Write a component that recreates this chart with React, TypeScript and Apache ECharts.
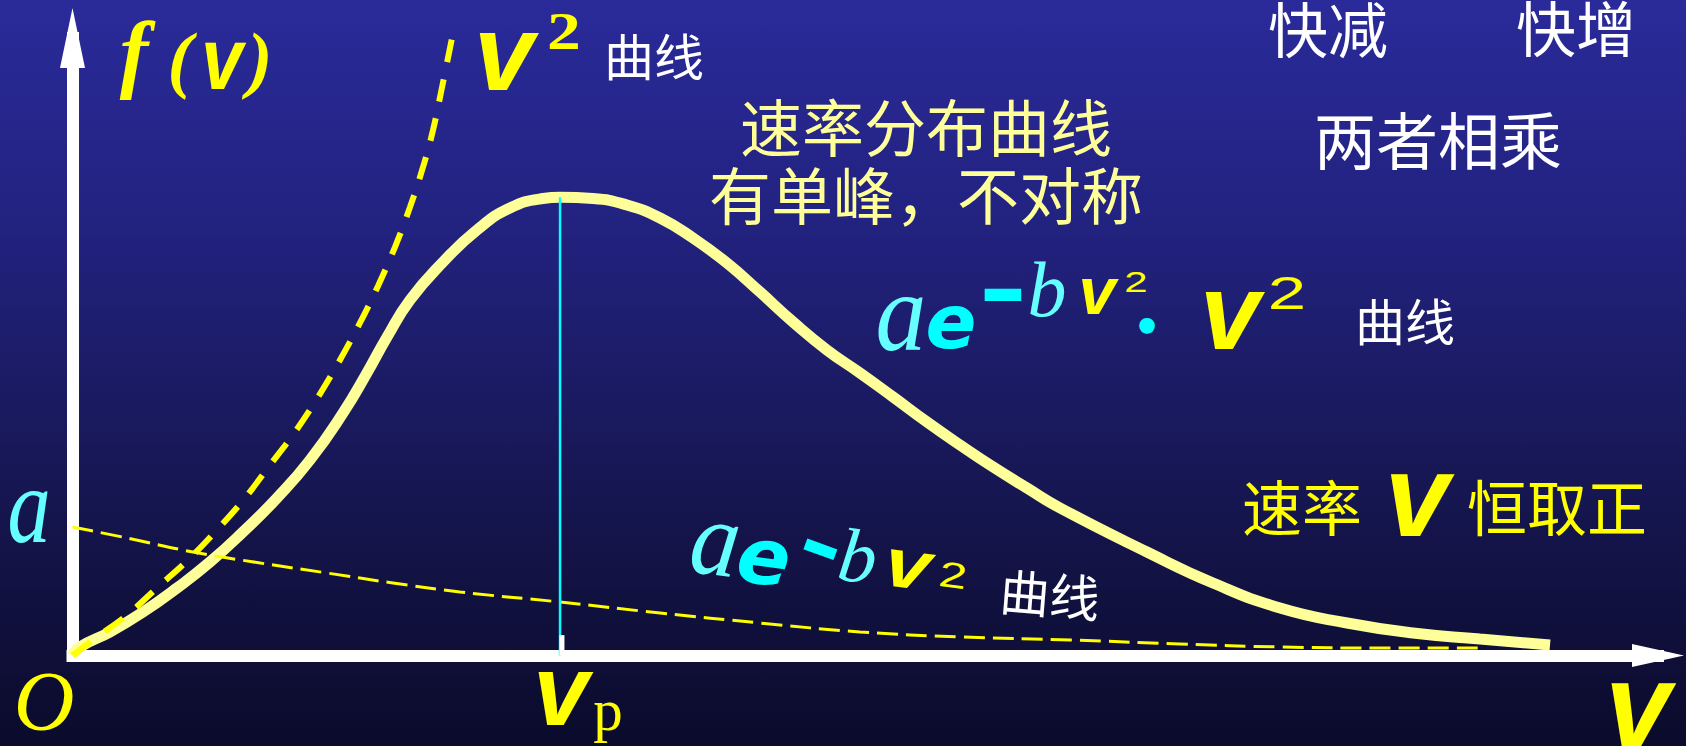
import { useEffect, useRef } from 'react';
import * as echarts from 'echarts';

// Maxwell speed distribution sketch. Speed v and f(v) are both on a 0–100 plotting scale.

// most probable speed and the peak value of f(v)
const vp = 30.75;
const fPeak = 74.2;

// solid curve: a·e^(-bv²)·v²
const distV = [0, 0.47, 2.37, 4.45, 6.59, 8.67, 10.75, 12.9, 14.98, 17.06, 18.57, 19.84, 21.29, 23.37, 25.51, 27.59, 29.67, vp, 32.83, 34.97, 37.06, 39.14, 41.28, 43.36, 45.45, 47.59, 49.67, 51.76, 53.9, 55.98, 58.06, 60.2, 62.29, 67.77, 71.93, 76.16, 80.39, 84.55, 88.77, 93.19];
const distF = [0, 1.38, 3.81, 7.04, 10.93, 15.14, 20.0, 25.51, 31.66, 39.27, 45.75, 51.58, 57.57, 63.72, 68.91, 72.47, 74.0, fPeak, 74.0, 72.96, 70.85, 67.61, 63.56, 58.87, 54.01, 49.47, 45.75, 41.86, 37.81, 34.09, 30.53, 27.13, 23.89, 16.76, 11.74, 7.69, 5.26, 3.64, 2.67, 1.7];

// dashed v² curve
const sqV = [0, 1.55, 3.44, 5.39, 7.29, 9.11, 10.88, 12.46, 14.03, 15.49, 16.87, 18.13, 19.27, 20.34, 21.29, 22.11, 22.74, 23.31, 24.0];
const sqF = [0, 3.0, 6.56, 11.09, 15.47, 20.33, 25.51, 30.85, 36.19, 41.86, 47.85, 53.85, 59.84, 66.15, 72.63, 79.11, 85.1, 92.06, 100.8];

// dashed a·e^(-bv²) curve
const expV = [0, 3.44, 7.6, 11.83, 16.05, 20.21, 24.44, 30.75, 37.06, 43.37, 49.67, 55.98, 62.92, 69.85, 76.16, 82.47, 88.97];
const expF = [20.81, 19.03, 16.76, 14.98, 13.36, 11.74, 10.28, 8.66, 6.88, 5.26, 3.81, 3.0, 2.51, 1.86, 1.38, 1.21, 1.21];

// short white mark at the foot of the v_p line
const vpTick = [0, 3.3];

const YELLOW = '#ffff00';
const PALE = '#ffff99';
const CYAN = '#00ffff';
const LIGHT_CYAN = '#66ffff';
const WHITE = '#ffffff';

const SERIF = '"Liberation Serif", "DejaVu Serif", serif';
const SANS = '"Liberation Sans", Arial, sans-serif';
const DEJAVU = '"DejaVu Sans", sans-serif';
const CJK = '"Noto Sans CJK SC", "Noto Sans", sans-serif';

type Label = {
  text: string;
  x: number;
  y: number;
  size: number;
  color: string;
  family: string;
  italic?: boolean;
  bold?: boolean;
  sx?: number;
  rot?: number;
  lineHeight?: number;
};

function label(l: Label) {
  return {
    type: 'text',
    x: l.x,
    y: l.y,
    scaleX: l.sx ?? 1,
    rotation: l.rot ?? 0,
    silent: true,
    z: 10,
    style: {
      text: l.text,
      fill: l.color,
      fontSize: l.size,
      fontFamily: l.family,
      fontStyle: l.italic ? 'italic' : 'normal',
      fontWeight: l.bold ? 'bold' : 'normal',
      lineHeight: l.lineHeight,
      align: 'center',
      verticalAlign: 'middle',
      textAlign: 'center',
      textVerticalAlign: 'middle',
    },
  };
}

const pairs = (xs: number[], ys: number[]) => xs.map((x, i) => [x, ys[i]]);

const LOWER_TILT = -0.13;

const labels: Label[] = [
  // f(v)
  { text: 'f', x: 134, y: 52, size: 86, color: YELLOW, family: SERIF, italic: true, bold: true },
  { text: '(', x: 180, y: 58, size: 75, color: YELLOW, family: SERIF, italic: true, bold: true },
  { text: 'v', x: 222, y: 58, size: 88, color: YELLOW, family: SANS, italic: true, bold: true, sx: 0.85 },
  { text: ')', x: 260, y: 58, size: 75, color: YELLOW, family: SERIF, italic: true, bold: true },
  // origin, a, v_p, v
  { text: 'O', x: 44, y: 701, size: 84, color: YELLOW, family: SERIF, italic: true },
  { text: 'a', x: 29, y: 506, size: 108, color: LIGHT_CYAN, family: SERIF, italic: true, sx: 0.8 },
  { text: 'v', x: 561, y: 690, size: 100, color: YELLOW, family: SANS, italic: true, bold: true },
  { text: 'p', x: 608, y: 710, size: 59, color: YELLOW, family: SERIF },
  { text: 'v', x: 1638, y: 705, size: 118, color: YELLOW, family: SANS, italic: true, bold: true },
  // v² 曲线
  { text: 'v', x: 504, y: 52, size: 108, color: YELLOW, family: SANS, italic: true, bold: true },
  { text: '2', x: 564, y: 31, size: 52, color: YELLOW, family: SERIF, bold: true, sx: 1.3 },
  { text: '曲线', x: 654, y: 54, size: 50, color: WHITE, family: CJK },
  // notes
  { text: '速率分布曲线\n有单峰，不对称', x: 926, y: 159, size: 62, color: PALE, family: CJK, lineHeight: 68 },
  { text: '快减', x: 1328, y: 26, size: 60, color: WHITE, family: CJK },
  { text: '快增', x: 1576, y: 25, size: 60, color: WHITE, family: CJK },
  { text: '两者相乘', x: 1438, y: 138, size: 62, color: WHITE, family: CJK },
  // a·e^(-bv²)·v² 曲线
  { text: 'a', x: 901, y: 312, size: 113, color: LIGHT_CYAN, family: SERIF, italic: true, sx: 0.9 },
  { text: 'e', x: 951, y: 322, size: 75, color: CYAN, family: DEJAVU, italic: true, bold: true },
  { text: '-', x: 1003, y: 290, size: 85, color: CYAN, family: DEJAVU, bold: true, sx: 1.4 },
  { text: 'b', x: 1047, y: 289, size: 78, color: LIGHT_CYAN, family: SERIF, italic: true },
  { text: 'v', x: 1097, y: 290, size: 67, color: YELLOW, family: SANS, italic: true, bold: true },
  { text: '2', x: 1136, y: 282, size: 30, color: YELLOW, family: SANS, sx: 1.4 },
  { text: '•', x: 1147, y: 326, size: 44, color: CYAN, family: DEJAVU, bold: true },
  { text: 'v', x: 1230, y: 311, size: 108, color: YELLOW, family: SANS, italic: true, bold: true },
  { text: '2', x: 1287, y: 293, size: 46, color: YELLOW, family: SANS, sx: 1.5 },
  { text: '曲线', x: 1405, y: 319, size: 50, color: WHITE, family: CJK },
  // a·e^(-bv²) 曲线 (tilted)
  { text: 'a', x: 716, y: 538, size: 108, color: LIGHT_CYAN, family: SERIF, italic: true, sx: 0.9, rot: LOWER_TILT },
  { text: 'e', x: 764, y: 557, size: 78, color: CYAN, family: DEJAVU, italic: true, bold: true, rot: LOWER_TILT },
  { text: '-', x: 822, y: 545, size: 80, color: CYAN, family: DEJAVU, bold: true, sx: 1.3, rot: -0.35 },
  { text: 'b', x: 858, y: 556, size: 76, color: LIGHT_CYAN, family: SERIF, italic: true, rot: LOWER_TILT },
  { text: 'v', x: 908, y: 564, size: 69, color: YELLOW, family: SANS, italic: true, bold: true, sx: 1.2, rot: LOWER_TILT },
  { text: '2', x: 953, y: 575, size: 36, color: YELLOW, family: SANS, sx: 1.4, rot: LOWER_TILT },
  { text: '曲线', x: 1050, y: 592, size: 50, color: WHITE, family: CJK, rot: -0.08 },
  // 速率 v 恒取正
  { text: '速率', x: 1302, y: 504, size: 60, color: YELLOW, family: CJK },
  { text: 'v', x: 1417, y: 496, size: 116, color: YELLOW, family: SANS, italic: true, bold: true },
  { text: '恒取正', x: 1557, y: 504, size: 60, color: YELLOW, family: CJK },
];

export default function App() {
  const ref = useRef<HTMLDivElement>(null);

  useEffect(() => {
    if (!ref.current) return;
    const chart = echarts.init(ref.current, null, { renderer: 'svg' });
    chart.setOption({
      animation: false,
      backgroundColor: 'transparent',
      grid: { left: 72.5, right: 28, top: 38, bottom: 90.5 },
      xAxis: {
        type: 'value',
        min: 0,
        max: 100,
        axisLine: {
          show: true,
          symbol: ['none', 'triangle'],
          symbolSize: [23, 52],
          lineStyle: { color: WHITE, width: 12, cap: 'square' },
        },
        axisTick: { show: false },
        axisLabel: { show: false },
        splitLine: { show: false },
      },
      yAxis: {
        type: 'value',
        min: 0,
        max: 100,
        axisLine: {
          show: true,
          symbol: ['none', 'triangle'],
          symbolSize: [25, 60],
          lineStyle: { color: WHITE, width: 12, cap: 'square' },
        },
        axisTick: { show: false },
        axisLabel: { show: false },
        splitLine: { show: false },
      },
      series: [
        {
          name: 'f(v)',
          type: 'line',
          data: pairs(distV, distF),
          smooth: 0.5,
          showSymbol: false,
          clip: false,
          z: 2,
          lineStyle: { color: PALE, width: 11 },
        },
        {
          name: 'a·e^(-bv²)',
          type: 'line',
          data: pairs(expV, expF),
          smooth: 0.4,
          showSymbol: false,
          clip: false,
          z: 3,
          lineStyle: { color: YELLOW, width: 3, type: [21, 8] },
        },
        {
          name: 'v²',
          type: 'line',
          data: pairs(sqV, sqF),
          smooth: 0.4,
          showSymbol: false,
          clip: false,
          z: 4,
          lineStyle: { color: YELLOW, width: 6, type: [23, 17] },
        },
        {
          name: 'vp',
          type: 'line',
          data: [[vp, 0], [vp, fPeak]],
          showSymbol: false,
          clip: false,
          z: 5,
          lineStyle: { color: CYAN, width: 2.5 },
        },
        {
          name: 'vp tick',
          type: 'line',
          data: vpTick.map((f) => [vp + 0.12, f]),
          showSymbol: false,
          clip: false,
          z: 5,
          lineStyle: { color: WHITE, width: 5 },
        },
      ],
      graphic: labels.map(label),
    });
    return () => chart.dispose();
  }, []);

  return (
    <div
      ref={ref}
      style={{
        position: 'fixed',
        left: 0,
        top: 0,
        width: 1686,
        height: 746,
        background:
          'linear-gradient(to bottom, #2a2a9a 0%, #222280 30%, #1a1a60 55%, #111140 80%, #0b0b2c 100%)',
      }}
    />
  );
}
